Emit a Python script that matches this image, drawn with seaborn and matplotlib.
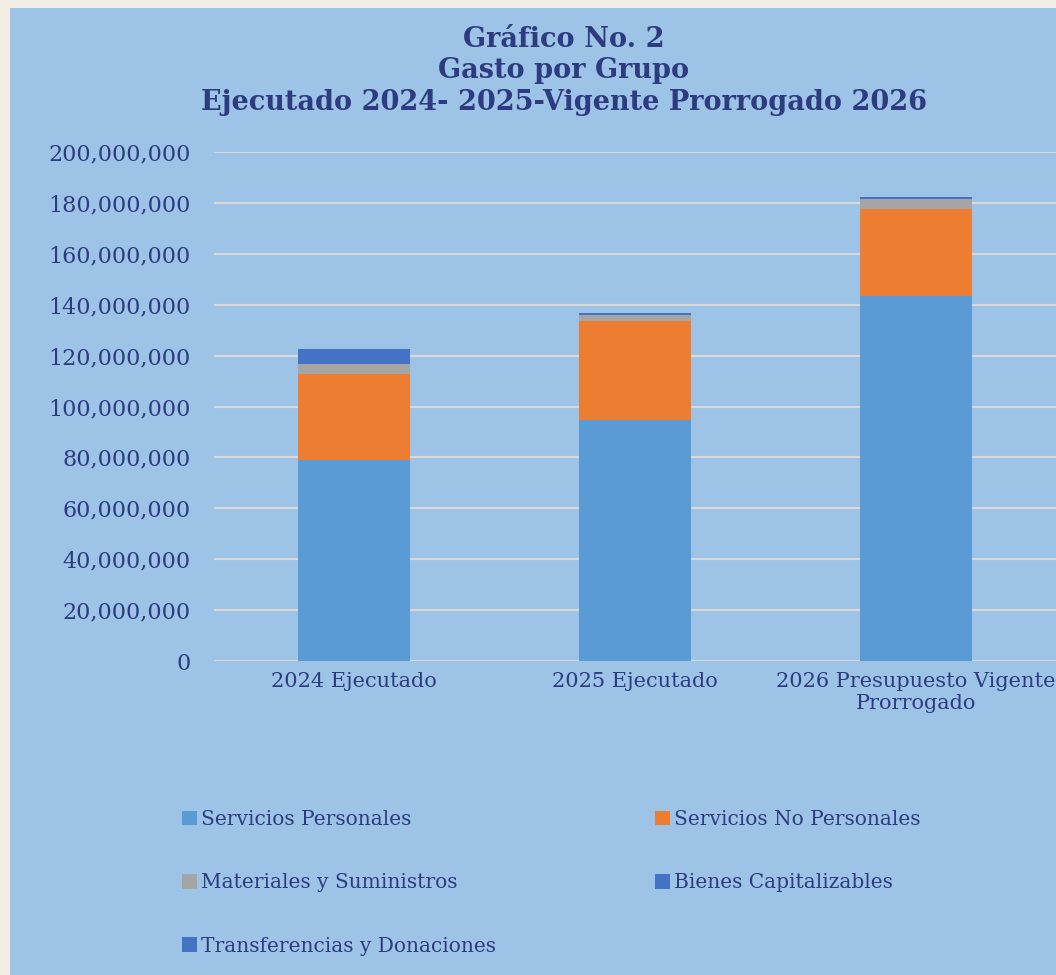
import matplotlib
matplotlib.use("Agg")
import matplotlib.pyplot as plt
from matplotlib.patches import Patch, Rectangle
from matplotlib.ticker import FuncFormatter
import numpy as np
import pandas as pd
import seaborn as sns

# Datos (valores aproximados)
categorias = ["2024 Ejecutado", "2025 Ejecutado", "2026 Presupuesto Vigente\nProrrogado"]
grupos = ["Servicios Personales", "Servicios No Personales", "Materiales y Suministros",
          "Bienes Capitalizables", "Transferencias y Donaciones"]
servicios_personales = [78_900_000, 94_700_000, 143_400_000]
servicios_no_personales = [34_000_000, 38_800_000, 34_200_000]
materiales_suministros = [3_800_000, 2_400_000, 3_900_000]
bienes_capitalizables = [5_700_000, 700_000, 500_000]
transferencias = [200_000, 200_000, 200_000]
colores = ["#5B9BD5", "#ED7D31", "#A5A5A5", "#4472C4", "#4472C4"]

valores = [servicios_personales, servicios_no_personales, materiales_suministros,
           bienes_capitalizables, transferencias]

texto = "#2E3B80"
fondo = "#9DC3E6"

sns.set_theme(style="white")
plt.rcParams["font.family"] = ["DejaVu Serif"]

fig = plt.figure(figsize=(10.56, 9.75), dpi=100)
fig.patch.set_facecolor("#F3EEE4")
fig.patches.append(Rectangle((10 / 1056, 0), 1, 1 - 8 / 975, transform=fig.transFigure,
                             facecolor=fondo, edgecolor="none", zorder=-5))

ax = fig.add_axes([214 / 1056, 1 - 661 / 975, (1056 - 214) / 1056, (661 - 152) / 975])
ax.set_facecolor("none")
ax.set_zorder(2)

# barras apiladas
base = np.zeros(len(categorias))
for grupo, vals, color in zip(grupos, valores, colores):
    df = pd.DataFrame({"categoria": categorias, "monto": vals})
    sns.barplot(data=df, x="categoria", y="monto", order=categorias, color=color,
                width=0.4, bottom=base.copy(), ax=ax, errorbar=None,
                saturation=1, linewidth=0, zorder=3)
    base += np.array(vals)

ax.set_ylim(0, 200_000_000)
ax.set_xlim(-0.5, 2.5)
ax.set_yticks(np.arange(0, 200_000_001, 20_000_000))
ax.yaxis.set_major_formatter(FuncFormatter(lambda v, p: f"{v:,.0f}"))
ax.yaxis.grid(True, color="#D9D9D9", linewidth=1.6, zorder=0)
ax.set_axisbelow(True)
for s in ax.spines.values():
    s.set_visible(False)
ax.tick_params(axis="y", length=0, pad=17, labelsize=16, labelcolor=texto)
ax.tick_params(axis="x", length=0, pad=8, labelsize=15, labelcolor=texto)
ax.set_xlabel("")
ax.set_ylabel("")

fig.text(564 / 1056, 1 - 71 / 975,
         "Gráfico No. 2\nGasto por Grupo\nEjecutado 2024- 2025-Vigente Prorrogado 2026",
         ha="center", va="center", fontsize=19.5, fontweight="bold", color=texto,
         linespacing=1.2)

# leyenda: orden por columnas para que se lea por filas
orden = [0, 2, 4, 1, 3]
handles = [Patch(facecolor=colores[i], edgecolor="none") for i in orden]
etiquetas = [grupos[i] for i in orden]
leg = fig.legend(handles, etiquetas, ncol=2, loc="upper left",
                 bbox_to_anchor=(182 / 1056, 1 - 810 / 975), frameon=False,
                 fontsize=14.5, labelcolor=texto, handlelength=0.75, handleheight=0.75,
                 handletextpad=0.2, labelspacing=2.2, columnspacing=7.9,
                 borderaxespad=0, borderpad=0)

fig.savefig("out.png", dpi=100, facecolor=fig.get_facecolor())
